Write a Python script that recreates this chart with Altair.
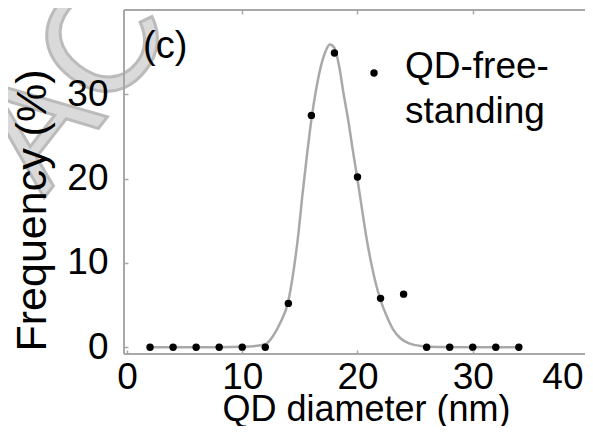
import altair as alt
import pandas as pd

# measured data points (QD diameter in nm, frequency in %)
dot_x = [2, 4, 6, 8, 10, 12, 14, 16, 18, 20, 22, 24, 26, 28, 30, 32, 34]
dot_y = [0, 0, 0, 0, 0, 0, 5.2, 27.5, 34.9, 20.2, 5.8, 6.3, 0, 0, 0, 0, 0]

# fitted curve
fit_x = [2, 4, 6, 8, 10, 11, 12, 12.7, 13.3, 14, 14.4, 14.9, 15.2, 15.6, 16, 16.4,
         16.8, 17.2, 17.6, 18, 18.4, 18.8, 19.2, 19.6, 20, 20.4, 20.8, 21.2, 21.6,
         22, 22.5, 23.1, 23.7, 24.5, 25.5, 27, 30, 34]
fit_y = [0, 0, 0, 0, 0.05, 0.12, 0.35, 1.4, 2.9, 5.5, 8.6, 13.8, 17.8, 22.6, 27.0, 30.5,
         33.2, 35.0, 35.9, 35.5, 33.4, 30.0, 26.9, 23.3, 19.9, 16.3, 12.8, 9.9, 7.5,
         5.6, 3.8, 2.1, 1.1, 0.45, 0.15, 0.03, 0, 0]

x_ticks = [0, 10, 20, 30, 40]
x_top_ticks = [10, 20, 30]
y_ticks = [0, 10, 20, 30]

FONT = "Liberation Sans"
FRAME = "#a8a8a8"
W, H = 461, 344
dots = pd.DataFrame({"d": dot_x, "f": dot_y})
fit = pd.DataFrame({"d": fit_x, "f": fit_y})

# the box runs a little past the right edge of the picture
xs = alt.Scale(domain=[-0.26, 40], range=[0, 464], nice=False, zero=False)
ys = alt.Scale(domain=[-0.8, 40], nice=False, zero=False)

x_bottom = alt.Axis(values=x_ticks, title="QD diameter (nm)", orient="bottom", offset=-4,
                    tickSize=4, tickColor=FRAME, tickWidth=1.5, domain=False, grid=False,
                    labelFontSize=37, labelFont=FONT, labelColor="black", labelPadding=5,
                    labelFlush=False,
                    labelAlign={"condition": {"test": "datum.value == 40", "value": "right"},
                                "value": "center"},
                    labelOffset={"condition": {"test": "datum.value == 40", "value": -5},
                                 "value": 0},
                    titleFontSize=36, titleFont=FONT, titleFontWeight="normal", titleColor="black",
                    titleX=242, titleY=70, titleBaseline="alphabetic", titleAlign="center", zindex=1)
x_top = alt.Axis(values=x_top_ticks, title=None, orient="top", offset=-4, labels=False,
                 tickSize=4, tickColor=FRAME, tickWidth=1.5, domain=False, grid=False, zindex=1)
y_left = alt.Axis(values=y_ticks, title="Frequency (%)", offset=-4, tickSize=4,
                  tickColor=FRAME, tickWidth=1.5, domain=False, grid=False,
                  labelFontSize=37, labelFont=FONT, labelColor="black", labelPadding=16,
                  titleFontSize=43, titleFont=FONT, titleFontWeight="normal", titleColor="black",
                  titleX=-83, titleY=200, titleAngle=270, titleAlign="center",
                  titleBaseline="alphabetic", zindex=1)

watermark = alt.Chart(pd.DataFrame({"t": ["AC"]})).mark_text(
    fontSize=155, font=FONT, angle=308, align="left", baseline="alphabetic",
    color="#d4d4d4", stroke="#b0b0b0", strokeWidth=3, opacity=0.85
).encode(x=alt.value(-80), y=alt.value(188), text="t:N")

frame_left = alt.Chart(pd.DataFrame({"k": [0]})).mark_rule(color=FRAME, strokeWidth=2).encode(
    x=alt.value(0), y=alt.value(0), y2=alt.value(H))
frame_top = alt.Chart(pd.DataFrame({"k": [0]})).mark_rule(color=FRAME, strokeWidth=2).encode(
    x=alt.value(0), x2=alt.value(W), y=alt.value(0))
frame_bottom = alt.Chart(pd.DataFrame({"k": [0]})).mark_rule(color=FRAME, strokeWidth=2).encode(
    x=alt.value(0), x2=alt.value(W), y=alt.value(H))

curve = alt.Chart(fit).mark_line(color="#a9a9a9", strokeWidth=2.5, interpolate="monotone").encode(
    x=alt.X("d:Q", scale=xs, axis=x_bottom),
    y=alt.Y("f:Q", scale=ys, axis=y_left),
)

points = alt.Chart(dots).mark_circle(color="black", size=55, opacity=1).encode(
    x=alt.X("d:Q", scale=xs, axis=x_top),
    y=alt.Y("f:Q", scale=ys, axis=None),
)

panel = alt.Chart(pd.DataFrame({"t": ["(c)"]})).mark_text(
    fontSize=38, font=FONT, align="left", baseline="alphabetic", color="black"
).encode(x=alt.value(19), y=alt.value(48), text="t:N")

leg_dot = alt.Chart(pd.DataFrame({"t": ["QD-free-standing"]})).mark_circle(
    color="black", size=55, opacity=1
).encode(x=alt.value(250), y=alt.value(63))

leg_text = alt.Chart(pd.DataFrame({"t": ["QD-free-\nstanding"]})).mark_text(
    fontSize=37, font=FONT, align="left", baseline="alphabetic", color="black",
    lineBreak="\n", lineHeight=45
).encode(x=alt.value(281), y=alt.value(68), text="t:N")

chart = alt.layer(watermark, frame_left, frame_top, frame_bottom, curve, points, panel,
                  leg_dot, leg_text).resolve_axis(
    x="independent", y="independent"
).properties(
    width=W, height=H,
    autosize=alt.AutoSizeParams(type="none"),
    padding={"left": 116, "top": 2, "right": 0, "bottom": 72},
    background="white",
).configure_view(stroke=None)

chart.save("out.html", embed_options={"renderer": "svg", "actions": False})
